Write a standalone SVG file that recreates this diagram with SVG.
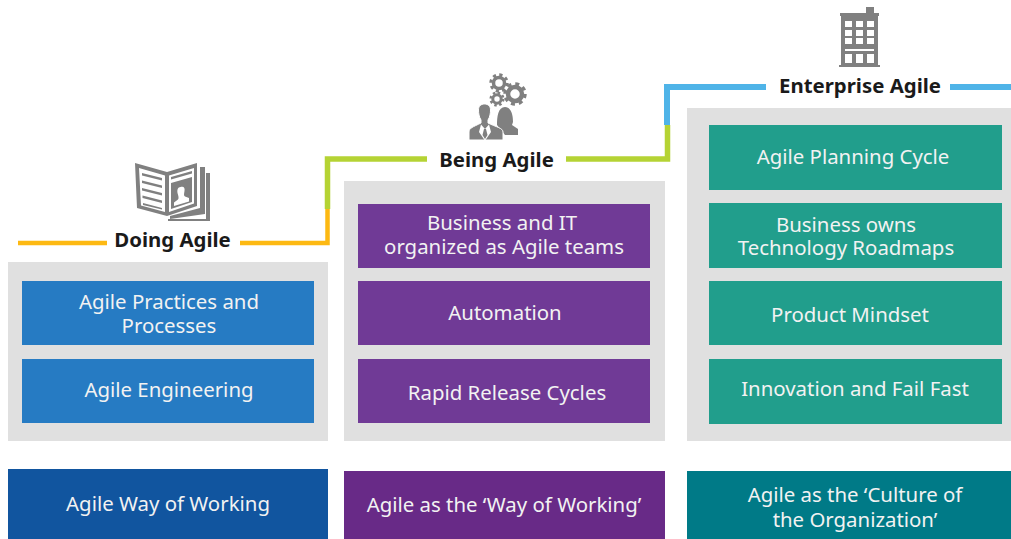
<svg xmlns="http://www.w3.org/2000/svg" width="1011" height="539" viewBox="0 0 1011 539">
<style>
.panel{fill:#e0e0e0}
.t{font-family:"Noto Sans","Open Sans",sans-serif;font-size:20.4px;fill:#f2f2f2;text-anchor:middle}
.h{font-family:"Noto Sans","Open Sans",sans-serif;font-size:20.4px;font-weight:700;fill:#1a1a1a;text-anchor:middle}
.blue{fill:#267bc3}.purple{fill:#703a96}.teal{fill:#219e8c}
.ic{fill:#808080}.icw{fill:#fff}
.ln{fill:none}
.gear{fill:none;stroke:#808080}
</style>
<rect width="1011" height="539" fill="#fff"/>
<g id="connectors">
<path class="ln" stroke="#fdb913" stroke-width="4.500" d="M18 243H107M240 243H327.500V209"/>
<path class="ln" stroke="#b5d334" stroke-width="5.500" d="M327.500 209V159H427M566 159H667.500V125"/>
<path class="ln" stroke="#4fb4e8" stroke-width="6" d="M667 125V87H766M950 87H1011"/>
</g>
<g id="panel-doing"><rect class="panel" x="8" y="262" width="320" height="179"/></g>
<g id="panel-being"><rect class="panel" x="344" y="181" width="321" height="260"/></g>
<g id="panel-enterprise"><rect class="panel" x="687" y="108" width="324" height="333"/></g>

<g id="doing-icon">
<path class="ic" d="M135 163L167 172L197 163V206L167 216L137 208Z"/>
<path class="ic" d="M200 167H205V214L170 219V216L200 208Z"/>
<path class="ic" d="M206 173H210V221H168V219H206Z"/>
<path class="icw" d="M139 168L165 175.500V212L141 205.500ZM169 175.500L194 168V203.500L169 212Z"/>
<path class="ic" d="M142 173L162 178V180.500L142 175.500ZM142 180.500L162 185.500V188L142 183ZM142 188L162 193V195.500L142 190.500ZM142.500 195.500L162 200.500V203L142.500 198ZM143 203L162 208V209.500L143 205Z"/>
<path class="ic" d="M171 177L192 171V173.500L171 179.500ZM171 183L192 177V202L171 209Z"/>
<path class="icw" d="M180.500 187C184 186 185 188 184.500 191C184 194 183.500 195.500 185 196.500L189 198V201.500L174 206V202.500L178 199.500C179 198.500 178.500 196 177.500 193C177 189 178 187.500 180.500 187Z"/>
</g>
<g id="doing-title"><text class="h" x="172.500" y="247">Doing Agile</text></g>

<g id="being-icon">
<circle class="gear" cx="499" cy="83" r="5.500" stroke-width="3.500"/>
<circle class="gear" cx="499" cy="83" r="8.200" stroke-width="3" stroke-dasharray="3.200 3.240"/>
<circle class="gear" cx="515" cy="94" r="7" stroke-width="4.500"/>
<circle class="gear" cx="515" cy="94" r="10" stroke-width="3.500" stroke-dasharray="3.900 3.950"/>
<circle class="gear" cx="497" cy="99" r="4.200" stroke-width="3"/>
<circle class="gear" cx="497" cy="99" r="6.300" stroke-width="2.500" stroke-dasharray="2.450 2.500"/>
<path class="ic" d="M497 125C497 117 498 107 505 107C512 107 513 117 513 122L512 125L518 129V135H505Z"/>
<path class="ic" stroke="#fff" stroke-width="1" d="M469 140V132C469 128 473 127 481 123V120C479 117 478.500 113 478.500 110C478.500 106 481 104 484.500 104C488 104 490.500 106 490.500 110C490.500 113 490 117 488 120V123C496 127 503 128 503 132V140Z"/>
<path class="icw" d="M481 124.500L485 129L489 124.500L491 132L485.500 140H484.500L479 132Z"/>
<path class="ic" d="M484 129H486L487.500 135L485 139L482.500 135Z"/>
</g>
<g id="being-title"><text class="h" x="496.500" y="167">Being Agile</text></g>

<g id="enterprise-icon">
<rect class="ic" x="866" y="7" width="8" height="6"/>
<rect class="ic" x="840" y="13" width="39" height="3"/>
<rect class="ic" x="841" y="16" width="37" height="49"/>
<rect class="ic" x="839" y="65" width="41" height="2"/>
<path class="icw" d="M845 21h7v6h-7zM856 21h7v6h-7zM867 21h7v6h-7zM845 30h7v6h-7zM856 30h7v6h-7zM867 30h7v6h-7zM845 38h7v6h-7zM856 38h7v6h-7zM867 38h7v6h-7zM845 49h29v2h-29zM845 54h7v9h-7zM856 54h7v9h-7zM867 54h7v9h-7z"/>
</g>
<g id="enterprise-title"><text class="h" x="860" y="93">Enterprise Agile</text></g>

<g id="d1"><rect class="blue" x="22" y="281" width="292" height="64"/><text class="t" x="169" y="309">Agile Practices and</text><text class="t" x="169" y="333">Processes</text></g>
<g id="d2"><rect class="blue" x="22" y="359" width="292" height="64"/><text class="t" x="169" y="397">Agile Engineering</text></g>

<g id="b1"><rect class="purple" x="358" y="204" width="292" height="64"/><text class="t" x="502" y="230">Business and IT</text><text class="t" x="504" y="254">organized as Agile teams</text></g>
<g id="b2"><rect class="purple" x="358" y="281" width="292" height="64"/><text class="t" x="505" y="320">Automation</text></g>
<g id="b3"><rect class="purple" x="358" y="359" width="292" height="64"/><text class="t" x="507" y="400">Rapid Release Cycles</text></g>

<g id="e1"><rect class="teal" x="709" y="125" width="293" height="65"/><text class="t" x="853" y="164">Agile Planning Cycle</text></g>
<g id="e2"><rect class="teal" x="709" y="203" width="293" height="65"/><text class="t" x="846" y="232">Business owns</text><text class="t" x="846" y="255">Technology Roadmaps</text></g>
<g id="e3"><rect class="teal" x="709" y="281" width="293" height="64"/><text class="t" x="850" y="322">Product Mindset</text></g>
<g id="e4"><rect class="teal" x="709" y="359" width="293" height="65"/><text class="t" x="855" y="396">Innovation and Fail Fast</text></g>

<g id="s1"><rect x="8" y="469" width="320" height="70" fill="#11559f"/><text class="t" x="168" y="511">Agile Way of Working</text></g>
<g id="s2"><rect x="344" y="471" width="321" height="68" fill="#682a87"/><text class="t" x="504" y="512">Agile as the ‘Way of Working’</text></g>
<g id="s3"><rect x="687" y="471" width="324" height="68" fill="#007a87"/><text class="t" x="855" y="502">Agile as the ‘Culture of</text><text class="t" x="855" y="527">the Organization’</text></g>
</svg>
